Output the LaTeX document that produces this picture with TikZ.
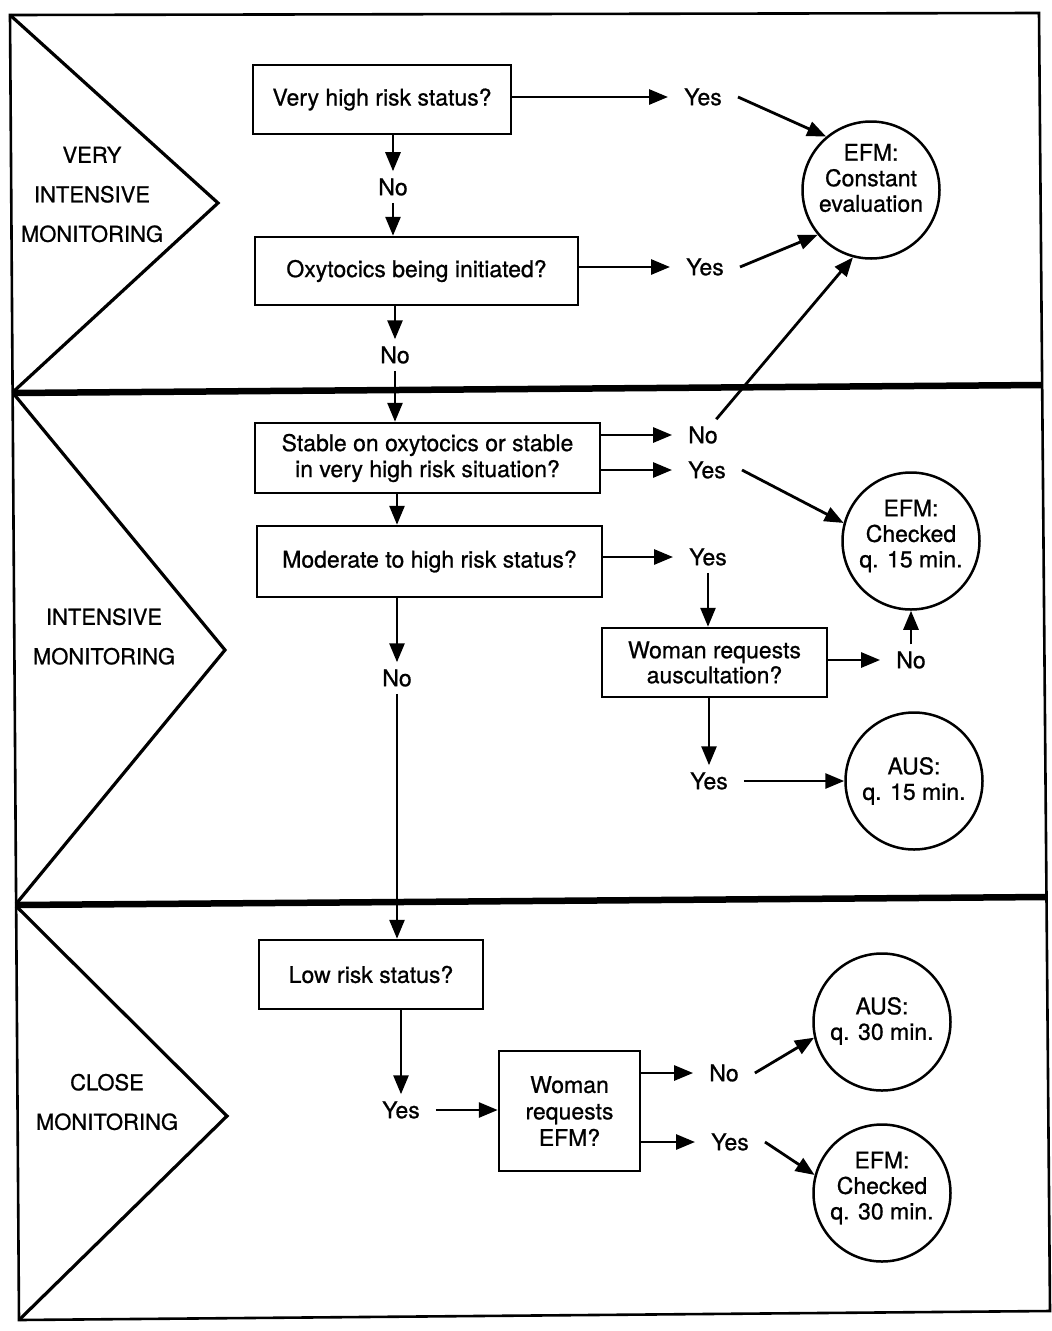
\documentclass[tikz,border=0pt]{standalone}
\usepackage{fontspec}
\setmainfont{TeX Gyre Heros}[FakeBold=0.8]
\usetikzlibrary{arrows.meta}
\begin{document}
\begin{tikzpicture}[x=1pt,y=-1pt,
  every node/.style={font=\fontsize{23}{26}\selectfont},
  frame/.style={line width=2.6pt, line join=miter},
  sep/.style={line width=6.5pt},
  chevron/.style={line width=3.2pt, line join=miter},
  zone/.style={align=center, font=\fontsize{22}{39.5}\selectfont},
  box/.style={draw, line width=2.5pt, inner sep=0pt, align=center},
  disc/.style={draw, circle, line width=2.5pt, minimum size=137pt, inner sep=0pt},
  disctext/.style={align=center, font=\fontsize{23}{25.5}\selectfont},
  lbl/.style={inner xsep=16pt, inner ysep=7pt},
  arr/.style={line width=2.8pt, -{Triangle[length=19pt,width=15pt]}},
  wire/.style={line width=2.8pt}]

\useasboundingbox (0,0) rectangle (1052,1331);

% outer frame and level separators
\draw[frame] (10,15) -- (1039,13) -- (1050,1311) -- (19,1320) -- cycle;
\draw[sep] (12,393) -- (1042,385);
\draw[sep] (16,905) -- (1046,897);

% level chevrons
\draw[chevron] (10,15) -- (218,203) -- (13,392);
\draw[chevron] (13,393) -- (225,650) -- (16,904);
\draw[chevron] (16,906) -- (227,1116) -- (19,1320);

\node[zone] (z1) at (92,194.5) {VERY\\INTENSIVE\\MONITORING};
\node[zone] (z2) at (104,636.5) {INTENSIVE\\MONITORING};
\node[zone] (z3) at (107,1102) {CLOSE\\MONITORING};

% decision boxes
\node[box, minimum width=258pt, minimum height=69pt] (b1) at (382,99.5) {Very high risk status?};
\node[box, minimum width=323pt, minimum height=68pt] (b2) at (416.5,271) {Oxytocics being initiated?};
\node[box, minimum width=345pt, minimum height=70pt] (b3) at (427.5,458) {Stable on oxytocics or stable\\in very high risk situation?};
\node[box, minimum width=345pt, minimum height=71pt] (b4) at (429.5,561.5) {Moderate to high risk status?};
\node[box, minimum width=225pt, minimum height=69pt, font=\fontsize{23}{25}\selectfont] (b5) at (714.5,662.5) {Woman requests\\auscultation?};
\node[box, minimum width=224pt, minimum height=69pt] (b6) at (371,974.5) {Low risk status?};
\node[box, minimum width=141pt, minimum height=120pt, font=\fontsize{23}{26.5}\selectfont] (b7) at (569.5,1111) {Woman\\requests\\EFM?};

% outcomes
\node[disc, label={[disctext, yshift=12pt]center:{EFM:\\Constant\\evaluation}}] (c1) at (871,190) {};
\node[disc, label={[disctext, yshift=5pt]center:{EFM:\\Checked\\q. 15 min.}}] (c2) at (911,541) {};
\node[disc, label={[disctext]center:{AUS:\\q. 15 min.}}] (c3) at (914,781) {};
\node[disc, label={[disctext, yshift=1pt]center:{AUS:\\q. 30 min.}}] (c4) at (882,1022) {};
\node[disc, label={[disctext, yshift=5pt]center:{EFM:\\Checked\\q. 30 min.}}] (c5) at (882,1193) {};

% answers
\node[lbl] (yes1) at (703,97) {Yes};
\node[lbl] (no1) at (393,187) {No};
\node[lbl] (yes2) at (705,267) {Yes};
\node[lbl] (no2) at (395,355) {No};
\node[lbl] (no3) at (703,435) {No};
\node[lbl] (yes3) at (707,470) {Yes};
\node[lbl] (yes4) at (708,557) {Yes};
\node[lbl] (no4) at (397,678) {No};
\node[lbl] (no5) at (911,660) {No};
\node[lbl] (yes5) at (709,781) {Yes};
\node[lbl] (yes6) at (401,1110) {Yes};
\node[lbl] (no7) at (724,1073) {No};
\node[lbl] (yes7) at (730,1142) {Yes};

% very intensive level
\draw[arr] (b1.east |- yes1) -- (yes1.west);
\draw[arr] (yes1.east) -- (c1.130);
\draw[arr] (b1.south -| no1) -- (no1.north);
\draw[arr] (no1.south) -- (no1.south |- b2.north);
\draw[arr] (b2.east |- yes2) -- (yes2.west);
\draw[arr] (yes2.east) -- (c1.220);
\draw[arr] (b2.south -| no2) -- (no2.north);
\draw[arr] (no2.south) -- (no2.south |- b3.north);

% intensive level
\draw[arr] (b3.east |- no3) -- (no3.west);
\draw[arr] (b3.east |- yes3) -- (yes3.west);
\draw[arr] (no3) -- (c1.255);
\draw[arr] (yes3.east) -- (c2.165);
\draw[arr] (b3.south -| no4) -- (b4.north -| no4);
\draw[arr] (b4.east |- yes4) -- (yes4.west);
\draw[arr] (yes4.south) -- (yes4.south |- b5.north);
\draw[arr] (b5.east |- no5) -- (no5.west);
\draw[arr] (no5.north) -- (c2.south);
\draw[arr] (b5.south -| yes5) -- (yes5.north);
\draw[arr] (yes5) -- (c3);
\draw[arr] (b4.south -| no4) -- (no4.north);
\draw[arr] (no4.south) -- (no4.south |- b6.north);

% close level
\draw[arr] (b6.south -| yes6) -- (yes6.north);
\draw[arr] (yes6) -- (yes6 -| b7.west);
\draw[arr] (b7.east |- no7) -- (no7.west);
\draw[arr] (b7.east |- yes7) -- (yes7.west);
\draw[arr] (no7.east) -- (c4.193);
\draw[arr] (yes7.east) -- (c5.165);

\end{tikzpicture}
\end{document}
